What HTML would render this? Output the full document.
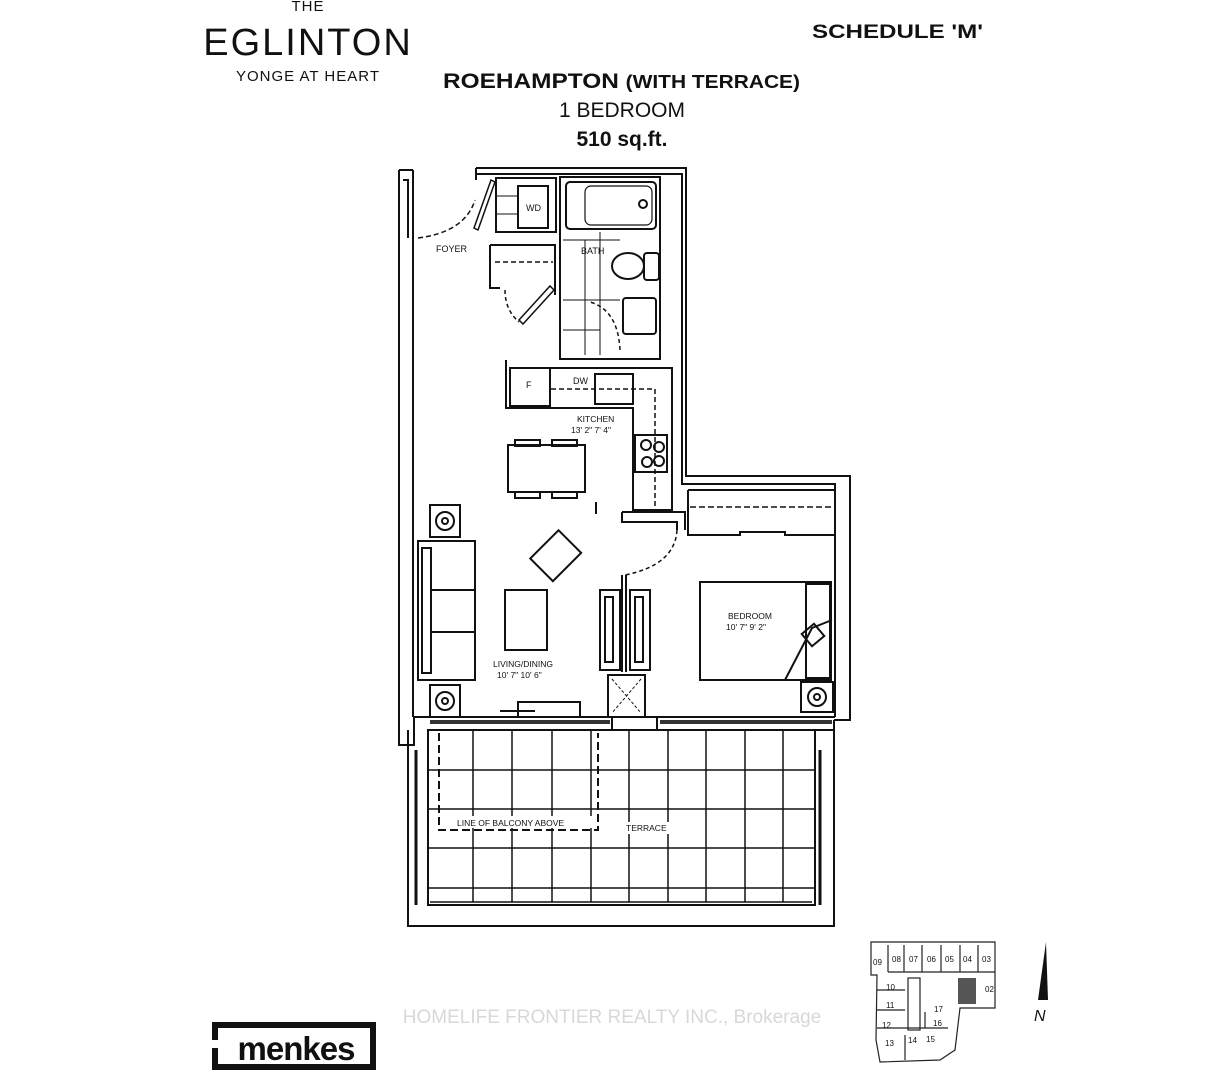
<!DOCTYPE html>
<html><head><meta charset="utf-8"><style>
html,body{margin:0;padding:0;background:#fff;}
svg{display:block;}
text{font-family:"Liberation Sans",sans-serif;fill:#111;}
</style></head><body>
<svg width="1221" height="1077" viewBox="0 0 1221 1077" xmlns="http://www.w3.org/2000/svg">
<rect width="1221" height="1077" fill="#fff"/>
<!-- header -->
<text x="308" y="11" font-size="15" text-anchor="middle" letter-spacing="1">THE</text>
<text x="308" y="55" font-size="38" text-anchor="middle" letter-spacing="2" font-weight="300">EGLINTON</text>
<text x="308" y="81" font-size="15" text-anchor="middle" letter-spacing="1">YONGE AT HEART</text>
<text x="812" y="38" font-size="19" font-weight="bold" textLength="171" lengthAdjust="spacingAndGlyphs">SCHEDULE 'M'</text>
<text x="443" y="88" font-size="21" font-weight="bold" textLength="357" lengthAdjust="spacingAndGlyphs">ROEHAMPTON <tspan font-size="18">(WITH TERRACE)</tspan></text>
<text x="622" y="117" font-size="21" text-anchor="middle">1 BEDROOM</text>
<text x="622" y="146" font-size="21" text-anchor="middle" font-weight="bold">510 sq.ft.</text>

<g fill="none" stroke="#111" stroke-width="2">
<!-- outer walls -->
<path d="M399 170 L399 745 L414 745 L414 717"/>
<path d="M413 170 L413 717"/>
<path d="M399 170 L413 170"/>
<path d="M403 180 L408 180 L408 238"/>
<path d="M476 168 L686 168 L686 476 L850 476 L850 720 L834 720"/>
<path d="M476 174 L682 174 L682 484 L835 484 L835 717"/>
<path d="M476 168 L476 180"/>
<!-- bottom wall -->
<path d="M413 717 L835 717"/>
<path d="M428 730 L612 730 M657 730 L835 730"/>
<path d="M612 717 L612 730 M657 717 L657 730"/>
<!-- door foyer -->
<path d="M418 238 Q465 232 475 200" stroke-dasharray="5 3" stroke-width="1.5"/>
<path d="M474 228 L491 180 L495 182 L478 230 Z" stroke-width="1.5"/>
<!-- WD closet -->
<rect x="496" y="178" width="60" height="54"/>
<rect x="518" y="186" width="30" height="42"/>
<path d="M496 196 L518 196 M496 214 L518 214" stroke-width="1"/>
<!-- coat closet -->
<path d="M490 245 L555 245 L555 295 M490 245 L490 288 L500 288" />
<path d="M495 262 L553 262" stroke-dasharray="5 3" stroke-width="1.5"/>
<path d="M519 320 L550 286 L554 290 L523 324 Z" stroke-width="1.5"/>
<path d="M505 290 Q505 310 519 322" stroke-dasharray="4 3" stroke-width="1.5"/>
<!-- bath -->
<rect x="560" y="177" width="100" height="182"/>
<rect x="566" y="182" width="90" height="47" rx="4"/>
<rect x="585" y="186" width="67" height="39" rx="6" stroke-width="1.2"/>
<circle cx="643" cy="204" r="4"/>
<ellipse cx="628" cy="266" rx="16" ry="13"/>
<rect x="644" y="253" width="15" height="27" rx="3"/>
<rect x="623" y="298" width="33" height="36" rx="3"/>
<path d="M563 240 L620 240 M563 300 L620 300 M563 330 L600 330 M585 240 L585 355 M600 232 L600 355" stroke-width="1"/>
<path d="M620 350 Q618 310 590 302" stroke-dasharray="4 3" stroke-width="1.5"/>
<!-- kitchen -->
<path d="M506 360 L506 408 L633 408 L633 510 L672 510 L672 368 L510 368"/>
<rect x="510" y="368" width="40" height="38"/>
<rect x="595" y="374" width="38" height="30"/>
<path d="M551 389 L655 389 L655 510" stroke-dasharray="5 3" stroke-width="1.5"/>
<rect x="635" y="435" width="32" height="37"/>
<circle cx="646" cy="445" r="5"/><circle cx="659" cy="447" r="5"/><circle cx="647" cy="462" r="5"/><circle cx="659" cy="461" r="5"/>
<!-- dining -->
<rect x="508" y="445" width="77" height="47"/>
<rect x="515" y="440" width="25" height="6"/><rect x="552" y="440" width="25" height="6"/>
<rect x="515" y="492" width="25" height="6"/><rect x="552" y="492" width="25" height="6"/>
<path d="M596 502 L596 514"/>
<!-- partition -->
<path d="M622 512 L685 512 L685 530 M625 522 L677 522 L677 530 M622 512 L622 522 L625 522"/>
<!-- bedroom closet -->
<path d="M688 490 L835 490 M688 490 L688 535 L740 535 L740 532 L785 532 L785 535 L835 535"/>
<path d="M690 507 L832 507" stroke-dasharray="6 3" stroke-width="1.5"/>
<path d="M677 530 Q675 565 625 575" stroke-dasharray="4 3" stroke-width="1.5"/>
<!-- wardrobes -->
<rect x="600" y="590" width="20" height="80"/><rect x="605" y="597" width="8" height="65"/>
<rect x="630" y="590" width="20" height="80"/><rect x="635" y="597" width="8" height="65"/>
<path d="M622 575 L622 672 M626 575 L626 672"/>
<rect x="608" y="675" width="37" height="42"/>
<path d="M612 679 L641 713 M641 679 L612 713" stroke-dasharray="3 2" stroke-width="1"/>
<!-- living -->
<rect x="418" y="541" width="57" height="139"/>
<rect x="422" y="548" width="9" height="125"/>
<path d="M431 590 L475 590 M431 632 L475 632"/>
<rect x="505" y="590" width="42" height="60"/>
<g transform="rotate(-45 555 555)"><rect x="535" y="540" width="40" height="32"/></g>
<rect x="430" y="505" width="30" height="32"/><circle cx="445" cy="521" r="9"/><circle cx="445" cy="521" r="3"/>
<rect x="430" y="685" width="30" height="32"/><circle cx="445" cy="701" r="9"/><circle cx="445" cy="701" r="3"/>
<rect x="801" y="682" width="32" height="30"/><circle cx="817" cy="697" r="9"/><circle cx="817" cy="697" r="3"/>
<rect x="518" y="702" width="62" height="15"/>
<path d="M500 711 L535 711"/>
<!-- bed -->
<rect x="700" y="582" width="131" height="98"/>
<rect x="806" y="584" width="24" height="94"/>
<path d="M785 680 L812 628 L832 620"/>
<g transform="rotate(-40 813 635)"><rect x="805" y="627" width="16" height="16"/></g>
<!-- window strips -->
<path d="M430 722 L610 722 M660 722 L832 722" stroke-width="4" stroke="#333"/>
<!-- terrace -->
<path d="M408 730 L408 926 L834 926 L834 720"/>
<rect x="428" y="730" width="387" height="175"/>
<path d="M416 750 L416 905 M820 750 L820 905" stroke-width="3"/>
<path d="M473 730V902M512 730V902M552 730V902M591 730V902M629 730V902M668 730V902M706 730V902M745 730V902M783 730V902" stroke-width="1.5"/>
<path d="M428 770H815M428 809H815M428 848H815M428 888H815M430 902H812" stroke-width="1.5"/>
<path d="M439 733 L439 830 L598 830 L598 733" stroke-dasharray="8 4" stroke-width="2"/>
</g>
<rect x="455" y="816" width="138" height="12" fill="#fff"/>
<rect x="622" y="822" width="52" height="12" fill="#fff"/>

<g font-size="9">
<text x="436" y="252">FOYER</text>
<text x="526" y="211">WD</text>
<text x="581" y="254">BATH</text>
<text x="526" y="388">F</text>
<text x="573" y="384">DW</text>
<text x="577" y="422" font-size="8.5">KITCHEN</text>
<text x="571" y="433" font-size="8.5">13' 2"   7' 4"</text>
<text x="493" y="667" font-size="8.5">LIVING/DINING</text>
<text x="497" y="678" font-size="8.5">10' 7"   10' 6"</text>
<text x="728" y="619" font-size="8.5">BEDROOM</text>
<text x="726" y="630" font-size="8.5">10' 7"   9' 2"</text>
<text x="457" y="826" font-size="8.5">LINE OF BALCONY ABOVE</text>
<text x="626" y="831" font-size="8.5">TERRACE</text>
</g>

<!-- watermark -->
<text x="612" y="1023" font-size="19" text-anchor="middle" style="fill:#d8d8d8">HOMELIFE FRONTIER REALTY INC., Brokerage</text>

<!-- menkes logo -->
<rect x="212" y="1022" width="164" height="48" fill="#111"/>
<rect x="218" y="1028" width="152" height="36" fill="#fff"/>
<rect x="208" y="1040" width="14" height="8" fill="#fff"/>
<text x="296" y="1060" font-size="33" font-weight="bold" text-anchor="middle" letter-spacing="-1">menkes</text>

<!-- key plan -->
<g fill="none" stroke="#222" stroke-width="1.2">
<path d="M875 942 L995 942 L995 1008 L960 1008 L955 1050 L940 1060 L880 1062 L876 1040 L877 975 L871 975 L871 942 Z"/>
<path d="M888 945V972M904 945V972M922 945V972M941 945V972M960 945V972M978 945V972M888 972H995M877 990H905M877 1010H905M877 1028H905M905 1035V1060M905 1028H948M925 1012V1028"/>
<rect x="908" y="978" width="12" height="52"/>
</g>
<rect x="958" y="978" width="18" height="26" fill="#555"/>
<g font-size="8" font-family="Liberation Sans">
<text x="873" y="965">09</text><text x="892" y="962">08</text><text x="909" y="962">07</text><text x="927" y="962">06</text><text x="945" y="962">05</text><text x="963" y="962">04</text><text x="982" y="962">03</text>
<text x="886" y="990">10</text><text x="886" y="1008">11</text><text x="882" y="1028">12</text><text x="885" y="1046">13</text><text x="908" y="1043">14</text><text x="926" y="1042">15</text><text x="933" y="1026">16</text><text x="934" y="1012">17</text><text x="985" y="992">02</text>
</g>
<path d="M1046 942 L1038 1000 L1048 1000 Z" fill="#111"/>
<text x="1034" y="1021" font-size="16" font-style="italic">N</text>
</svg>
</body></html>
